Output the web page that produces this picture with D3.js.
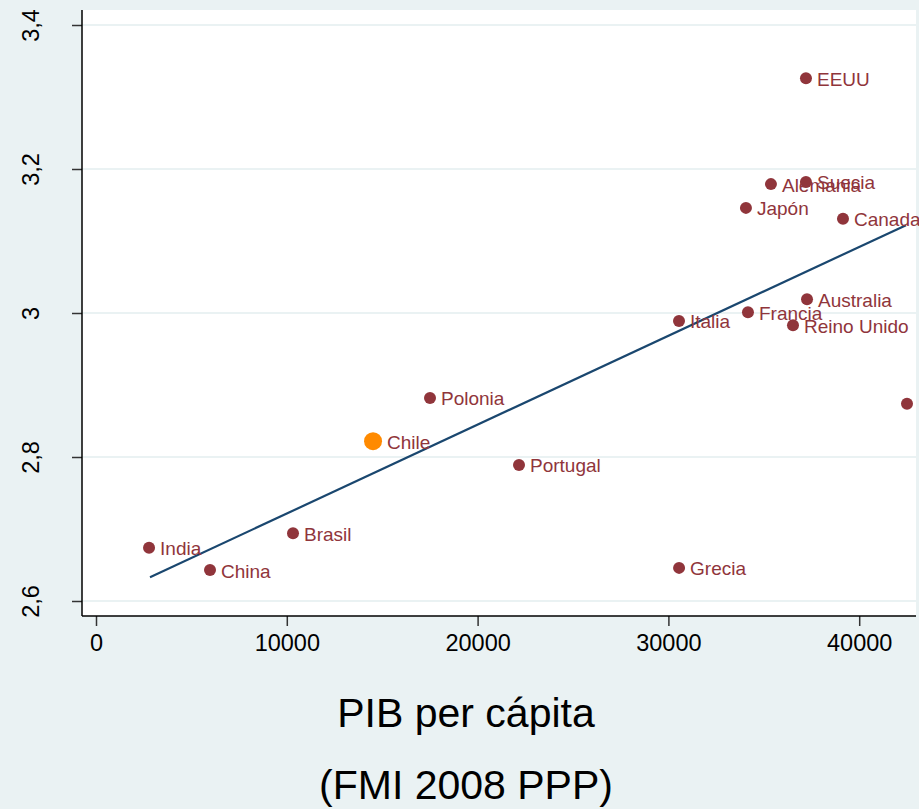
<!DOCTYPE html>
<html>
<head>
<meta charset="utf-8">
<script src="https://cdn.jsdelivr.net/npm/d3@7"></script>
<style>
html,body{margin:0;padding:0;background:#eaf2f3;}
svg{display:block;font-family:"Liberation Sans",Arial,sans-serif;}
</style>
</head>
<body>
<svg id="chart" width="919" height="809"></svg>
<script>
// Data
const countries = ["India","China","Brasil","Chile","Polonia","Portugal","Italia","Grecia","Francia","Reino Unido","Australia","Japón","Alemania","Suecia","Canada","EEUU",""];
const gdp =       [2780, 5975, 10325, 14520, 17505, 22170, 30555, 30560, 34170, 36530, 37265, 34065, 35375, 37210, 39150, 37210, 42505];
const score =     [2.674, 2.643, 2.694, 2.822, 2.882, 2.789, 2.989, 2.646, 3.001, 2.983, 3.019, 3.146, 3.179, 3.182, 3.131, 3.326, 2.874];
const fitX = [2830, 42453];
const fitY = [2.633, 3.122];
const xTicks = [0, 10000, 20000, 30000, 40000];
const yTicks = [2.6, 2.8, 3.0, 3.2, 3.4];
const yTickLabels = ["2,6", "2,8", "3", "3,2", "3,4"];
const xTitle = ["PIB per cápita", "(FMI 2008 PPP)"];
const highlight = "Chile";

const svg = d3.select("#chart");
const W = 919, H = 809;
const plot = {left: 82, right: 916, top: 10, bottom: 616};

const x = d3.scaleLinear().domain([0, 40000]).range([96, 859.2]);
const y = d3.scaleLinear().domain([2.6, 3.4]).range([601, 25]);

svg.append("rect").attr("width", W).attr("height", H).attr("fill", "#eaf2f3");
svg.append("rect")
  .attr("x", plot.left).attr("y", plot.top)
  .attr("width", plot.right - plot.left).attr("height", plot.bottom - plot.top)
  .attr("fill", "#ffffff");

// gridlines
svg.append("g").selectAll("line").data(yTicks).join("line")
  .attr("x1", plot.left).attr("x2", plot.right)
  .attr("y1", d => y(d)).attr("y2", d => y(d))
  .attr("stroke", "#eaf2f3").attr("stroke-width", 2);

// y axis
const yAxis = d3.axisLeft(y).tickValues(yTicks).tickSize(10)
  .tickFormat((d, i) => yTickLabels[i]);
const gy = svg.append("g").attr("transform", `translate(${plot.left},0)`).call(yAxis);
gy.select(".domain").remove();
gy.selectAll(".tick line").attr("stroke", "#333").attr("stroke-width", 1.5);
gy.selectAll(".tick text")
  .attr("font-size", 23.5).attr("fill", "#000")
  .attr("text-anchor", "middle")
  .attr("transform", "rotate(-90)")
  .attr("x", 0).attr("dy", 0)
  .attr("y", -44);
gy.selectAll(".tick text").each(function(d){
  d3.select(this).attr("transform", null)
    .attr("x", null).attr("y", null)
    .attr("transform", `translate(${38.5 - plot.left},0) rotate(-90)`);
});
svg.append("line").attr("x1", plot.left).attr("x2", plot.left)
  .attr("y1", plot.top).attr("y2", plot.bottom)
  .attr("stroke", "#000").attr("stroke-width", 1.5);

// x axis
const xAxis = d3.axisBottom(x).tickValues(xTicks).tickSize(10).tickFormat(d3.format("d"));
const gx = svg.append("g").attr("transform", `translate(0,${plot.bottom})`).call(xAxis);
gx.select(".domain").remove();
gx.selectAll(".tick line").attr("stroke", "#333").attr("stroke-width", 1.5);
gx.selectAll(".tick text").attr("font-size", 23.5).attr("fill", "#000")
  .attr("dy", 0).attr("y", 35);
svg.append("line").attr("x1", plot.left).attr("x2", plot.right)
  .attr("y1", plot.bottom).attr("y2", plot.bottom)
  .attr("stroke", "#000").attr("stroke-width", 1.5);

// fit line
svg.append("line")
  .attr("x1", x(fitX[0])).attr("y1", y(fitY[0]))
  .attr("x2", x(fitX[1])).attr("y2", y(fitY[1]))
  .attr("stroke", "#1a476f").attr("stroke-width", 2.2);

// points
const pts = countries.map((c, i) => ({c, gx: gdp[i], s: score[i]}));
svg.append("g").selectAll("circle").data(pts).join("circle")
  .attr("cx", d => x(d.gx)).attr("cy", d => y(d.s))
  .attr("r", d => d.c === highlight ? 9 : 6)
  .attr("fill", d => d.c === highlight ? "#ff8a00" : "#90353b");

svg.append("g").selectAll("text").data(pts).join("text")
  .attr("x", d => x(d.gx) + (d.c === highlight ? 14 : 11))
  .attr("y", d => y(d.s) + 7.5)
  .attr("font-size", 19)
  .attr("fill", "#90353b")
  .text(d => d.c);

// x title
svg.append("g").selectAll("text").data(xTitle).join("text")
  .attr("x", 466).attr("y", (d, i) => 727 + i * 72)
  .attr("text-anchor", "middle")
  .attr("font-size", 41).attr("fill", "#000")
  .text(d => d);
</script>
</body>
</html>
